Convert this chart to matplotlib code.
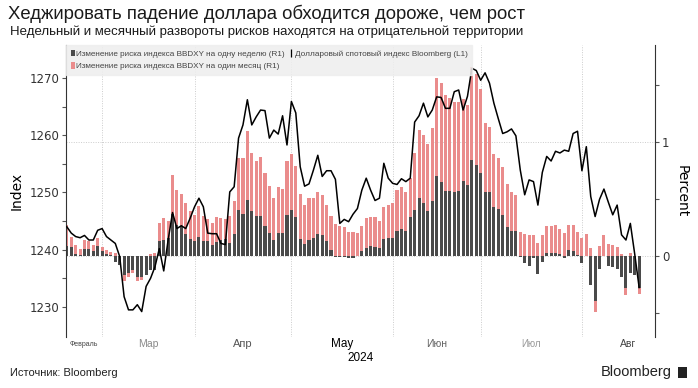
import numpy as np
import pandas as pd
import matplotlib
matplotlib.use('Agg')
import matplotlib.pyplot as plt
from matplotlib.patches import Patch, Rectangle
from matplotlib.lines import Line2D

# business days shown on the chart
dates = pd.bdate_range('2024-02-20', '2024-08-20')

# Bloomberg dollar spot index (L1)
index_level = [
    1244.0, 1242.9, 1242.3, 1242.1, 1242.5, 1241.7, 1241.7, 1243.4, 1243.7, 1242.3,
    1241.7, 1241.1, 1238.8, 1231.8, 1229.5, 1229.5, 1230.4, 1229.2, 1233.6, 1235.0,
    1237.0, 1240.2, 1236.3, 1241.7, 1246.5, 1243.7, 1244.2, 1243.7, 1245.5, 1247.5,
    1249.0, 1247.5, 1242.9, 1242.8, 1242.8, 1241.1, 1240.9, 1250.1, 1251.0, 1259.5,
    1261.8, 1266.2, 1261.8, 1263.2, 1264.4, 1264.3, 1259.5, 1260.9, 1260.2, 1263.4,
    1258.3, 1265.9, 1263.9, 1254.5, 1251.1, 1251.5, 1253.9, 1256.5, 1252.8, 1253.8,
    1253.8, 1252.3, 1244.6, 1245.3, 1244.9, 1246.2, 1247.2, 1250.4, 1252.5, 1250.4,
    1248.6, 1249.0, 1255.1, 1252.5, 1251.6, 1251.4, 1252.4, 1251.9, 1252.5, 1262.3,
    1263.4, 1265.6, 1263.2, 1264.4, 1266.7, 1266.6, 1264.7, 1264.7, 1267.6, 1267.9,
    1264.4, 1266.8, 1271.7, 1271.3, 1269.6, 1270.9, 1269.1, 1265.6, 1262.9, 1260.3,
    1260.6, 1261.1, 1259.9, 1253.9, 1249.6, 1252.2, 1251.9, 1247.8, 1253.5, 1256.3,
    1255.5, 1257.2, 1256.9, 1257.4, 1257.2, 1260.3, 1260.7, 1253.8, 1258.0, 1249.3,
    1245.8, 1248.8, 1250.6, 1248.3, 1246.1, 1247.8, 1242.6, 1241.7, 1244.6, 1239.2,
    1233.4]

# one-week risk reversal change (R1)
week_rr = [
    0.09, 0.08, 0.02, 0.01, 0.06, 0.06, 0.04, 0.09, 0.04, 0.02,
    0.005, -0.05, -0.08, -0.17, -0.15, -0.12, -0.18, -0.18, -0.17, -0.12,
    -0.12, 0.13, 0.14, 0.16, 0.37, 0.27, 0.26, 0.19, 0.15, 0.13,
    0.17, 0.13, 0.13, 0.10, 0.12, 0.14, 0.15, 0.11, 0.19, 0.40,
    0.37, 0.49, 0.39, 0.35, 0.35, 0.26, 0.20, 0.14, 0.20, 0.20,
    0.36, 0.40, 0.34, 0.15, 0.105, 0.14, 0.155, 0.19, 0.18, 0.13,
    0.05, -0.01, -0.01, -0.01, -0.02, -0.015, 0.0, 0.04, 0.07, 0.09,
    0.08, 0.07, 0.15, 0.16, 0.16, 0.22, 0.24, 0.22, 0.34, 0.40,
    0.51, 0.46, 0.39, 0.48, 0.70, 0.65, 0.57, 0.57, 0.56, 0.57,
    0.66, 0.62, 0.84, 0.80, 0.73, 0.56, 0.56, 0.43, 0.41, 0.36,
    0.25, 0.22, 0.22, -0.01, -0.06, -0.09, -0.02, -0.16, -0.05, 0.03,
    0.03, 0.03, 0.015, -0.02, 0.05, 0.04, 0.01, -0.065, 0.0, -0.25,
    -0.39, -0.11, 0.0, -0.09, -0.10, -0.11, -0.18, -0.28, -0.15, -0.17,
    -0.28]

# one-month risk reversal change (R1)
month_rr = [
    0.27, 0.17, 0.10, 0.06, 0.14, 0.13, 0.10, 0.16, 0.08, 0.05,
    0.035, 0.03, -0.03, -0.22, -0.18, -0.15, -0.22, -0.21, -0.08, 0.02,
    0.03, 0.29, 0.33, 0.31, 0.71, 0.58, 0.54, 0.46, 0.39, 0.36,
    0.44, 0.35, 0.32, 0.29, 0.34, 0.33, 0.32, 0.35, 0.48, 0.86,
    0.86, 1.09, 0.90, 0.83, 0.87, 0.73, 0.61, 0.51, 0.60, 0.59,
    0.83, 0.89, 0.79, 0.54, 0.45, 0.51, 0.51, 0.56, 0.53, 0.45,
    0.35, 0.28, 0.26, 0.25, 0.21, 0.21, 0.20, 0.26, 0.33, 0.34,
    0.34, 0.31, 0.43, 0.45, 0.46, 0.58, 0.60, 0.56, 0.68, 0.90,
    1.10, 1.06, 0.98, 1.12, 1.56, 1.51, 1.41, 1.38, 1.35, 1.35,
    1.37, 1.32, 1.65, 1.59, 1.46, 1.16, 1.13, 0.89, 0.86, 0.78,
    0.63, 0.56, 0.53, 0.21, 0.19, 0.18, 0.18, 0.11, 0.18, 0.26,
    0.26, 0.27, 0.24, 0.20, 0.27, 0.27, 0.21, 0.155, 0.19, 0.07,
    -0.49, 0.09, 0.18, 0.105, 0.10, 0.08, 0.02, -0.34, 0.03, 0.0,
    -0.33]

month_names = ['Февраль', 'Мар', 'Апр', 'May', 'Июн', 'Июл', 'Авг']

DARK = '#4a4a4a'
PINK = '#ea8c8c'
NARROW = ['Liberation Sans Narrow', 'Liberation Sans', 'DejaVu Sans']

x = np.arange(len(dates))
xmin, xmax = -0.2, 133.6

fig = plt.figure(figsize=(6.98, 3.88), dpi=100)
axb = fig.add_axes([66/698, 1 - 337/388, 589/698, 292/388])
axl = axb.twinx()

# bars on the right (percent) scale
axb.bar(x, month_rr, width=0.7, color=PINK, zorder=2)
axb.bar(x, week_rr, width=0.7, color=DARK, zorder=3)
axb.set_ylim(-0.709, 1.846)
axb.set_xlim(xmin, xmax)

# line on the left (index) scale
axl.plot(x, index_level, color='black', lw=1.1, zorder=4)
axl.set_ylim(1224.76, 1275.76)
axl.set_xlim(xmin, xmax)

axl.yaxis.tick_left()
axl.yaxis.set_label_position('left')
axb.yaxis.tick_right()
axb.yaxis.set_label_position('right')

for s in ['top', 'bottom', 'right']:
    axl.spines[s].set_visible(False)
for s in ['top', 'bottom', 'left']:
    axb.spines[s].set_visible(False)
axl.spines['left'].set_color('#333333')
axb.spines['right'].set_color('#333333')

axl.set_yticks([1230, 1240, 1250, 1260, 1270])
axl.set_yticks(np.arange(1230, 1275, 5), minor=True)
axb.set_yticks([0, 1])
axb.set_yticks([-0.5, 0.5, 1.5], minor=True)
for a in (axl, axb):
    a.tick_params(axis='y', which='both', length=3, width=0.8, color='#555555',
                  labelsize=8.5, labelcolor='#333333', pad=2)
    a.tick_params(axis='x', which='both', length=0, labelbottom=False)

axl.set_ylabel('Index', fontsize=10, labelpad=4)
axb.set_ylabel('Percent', fontsize=10, rotation=270, labelpad=14)

# month starts -> vertical dotted grid
month_start = [i for i in range(1, len(dates)) if dates[i].month != dates[i - 1].month]
for ms in month_start:
    axb.axvline(ms, color='#cccccc', lw=0.7, ls=(0, (1, 1.5)), zorder=1)
for yv in [0, 1]:
    axb.axhline(yv, color='#cccccc', lw=0.7, ls=(0, (1, 1.5)), zorder=1)

# month labels centred on each month's span
aug_end = pd.Timestamp('2024-08-30')
last_pos = len(pd.bdate_range(dates[0], aug_end)) - 1
bounds = [xmin] + month_start + [last_pos]
label_pos = [(bounds[k] + bounds[k + 1]) / 2 for k in range(len(month_names))]
label_style = [(5, '#444444'), (7.5, '#8a8a8a'), (8, '#555555'), (8.5, '#000000'),
               (7.5, '#666666'), (7, '#999999'), (7.5, '#444444')]
tr = axb.get_xaxis_transform()
for name, p, (fs, col) in zip(month_names, label_pos, label_style):
    axb.text(p, -0.024, name, transform=tr, ha='center', va='center',
             fontsize=fs, color=col, family=NARROW)
axb.text((xmin + xmax) / 2, -0.072, '2024', transform=tr, ha='center', va='center',
         fontsize=8.5, color='black', family=NARROW)

# legend
handles = [Patch(facecolor=DARK), Patch(facecolor=PINK),
           Line2D([0], [0], color='black', lw=0, marker='|', markersize=6,
                  markeredgewidth=0.9)]
labels = ['Изменение риска индекса BBDXY на одну неделю (R1)',
          'Изменение риска индекса BBDXY на один месяц (R1)',
          'Долларовый спотовый индекс Bloomberg (L1)']
leg = axl.legend(handles, labels, loc='upper left', bbox_to_anchor=(0, 1), ncol=2,
                 borderaxespad=0, frameon=True, fancybox=False, framealpha=0.85,
                 facecolor='#eeeeee', edgecolor='#eeeeee', handlelength=0.55,
                 handleheight=0.9, handletextpad=0.15, labelspacing=0.55,
                 columnspacing=0.5, borderpad=0.55,
                 prop={'family': NARROW, 'size': 5.9})
for t in leg.get_texts():
    t.set_color('#444444')
leg.set_zorder(10)

# titles and footer
fig.text(8/698, 1 - 14/388, 'Хеджировать падение доллара обходится дороже, чем рост',
         fontsize=13.3, family=['Liberation Sans', 'DejaVu Sans'], va='center', color='#1a1a1a')
fig.text(10/698, 1 - 32/388,
         'Недельный и месячный развороты рисков находятся на отрицательной территории',
         fontsize=9.5, family=NARROW, va='center', color='#1a1a1a')
fig.text(10/698, 1 - 373/388, 'Источник: Bloomberg', fontsize=8, family=NARROW,
         va='center', color='#222222')
fig.text(672/698, 1 - 372/388, 'Bloomberg', fontsize=10.5, family=NARROW,
         va='center', ha='right', color='#222222')
fig.patches.append(Rectangle((678/698, 1 - 378/388), 9/698, 11/388,
                             transform=fig.transFigure, facecolor='#222222',
                             edgecolor='none'))

fig.savefig('out.png', dpi=100)
